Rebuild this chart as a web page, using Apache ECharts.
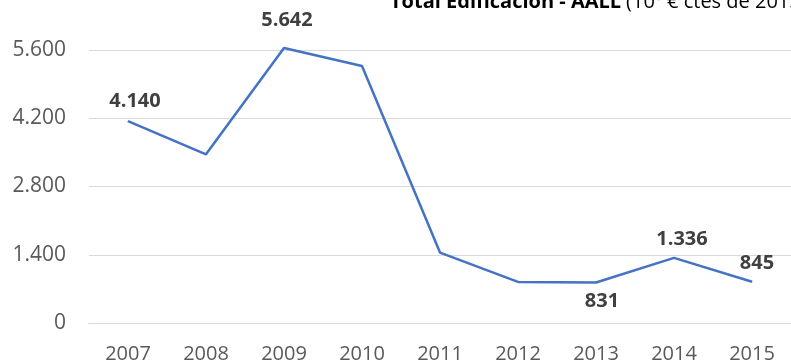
<!DOCTYPE html>
<html>
<head>
<meta charset="utf-8">
<script src="https://cdn.jsdelivr.net/npm/echarts@6/dist/echarts.min.js"></script>
<style>
html,body{margin:0;padding:0;background:#fff;}
#chart{width:791px;height:364px;}
</style>
</head>
<body>
<div id="chart"></div>
<script>
const years = ['2007','2008','2009','2010','2011','2012','2013','2014','2015'];
const values = [4140, 3460, 5642, 5270, 1445, 843, 831, 1336, 845];
const yTicks = [0, 1400, 2800, 4200, 5600];
const shownLabels = [0, 2, 6, 7, 8];

const FONT = '"Open Sans", sans-serif';
function fmt(v){
  return String(Math.round(v)).replace(/\B(?=(\d{3})+(?!\d))/g, '.');
}
// label placement per point (style only); padding-left shifts centred text right
const labelStyle = {
  0: {position:'top', distance:9, padding:[0,0,0,14]},
  2: {position:'top', distance:17, padding:[0,0,0,6]},
  6: {position:'bottom', distance:8, padding:[0,0,0,12]},
  7: {position:'top', distance:8, padding:[0,0,0,16]},
  8: {position:'top', distance:8, padding:[0,0,0,10]}
};
const seriesData = values.map((v,i)=>{
  const item = {value:v};
  if (shownLabels.indexOf(i) >= 0) {
    item.label = Object.assign({show:true}, labelStyle[i]);
  } else {
    item.label = {show:false};
  }
  return item;
});

const chart = echarts.init(document.getElementById('chart'), null, {renderer:'canvas'});
chart.setOption({
  animation:false,
  backgroundColor:'#ffffff',
  title:{
    left:390, top:-8, padding:0,
    text:'{b|Total Edificación - AALL} {n|(10⁶ € ctes de 2015)}',
    textStyle:{
      rich:{
        b:{fontFamily:FONT, fontSize:20, fontWeight:'bold', color:'#000000'},
        n:{fontFamily:FONT, fontSize:20, fontWeight:'normal', color:'#000000'}
      }
    }
  },
  grid:{left:89, right:-4, top:50, bottom:41, containLabel:false},
  xAxis:{
    type:'category',
    data:years,
    boundaryGap:true,
    axisLine:{show:true, lineStyle:{color:'#d9d9d9', width:1}},
    axisTick:{show:false},
    axisLabel:{color:'#595959', fontSize:20, fontFamily:FONT, margin:21, interval:0}
  },
  yAxis:{
    type:'value',
    min:yTicks[0], max:yTicks[yTicks.length-1], interval:1400,
    axisLine:{show:false},
    axisTick:{show:false},
    splitLine:{lineStyle:{color:'#d9d9d9', width:1}},
    axisLabel:{color:'#595959', fontSize:21, fontFamily:FONT, margin:23, formatter:fmt}
  },
  series:[{
    type:'line',
    data:seriesData,
    clip:false,
    symbol:'circle',
    symbolSize:1,
    showSymbol:true,
    showAllSymbol:true,
    itemStyle:{color:'#4472c4', borderWidth:0},
    lineStyle:{color:'#4472c4', width:2.5},
    labelLayout:{hideOverlap:false},
    label:{
      show:false,
      opacity:1,
      color:'#404040', fontSize:20, fontWeight:'bold', fontFamily:FONT,
      formatter:(p)=>fmt(p.value)
    }
  }]
});
</script>
</body>
</html>
